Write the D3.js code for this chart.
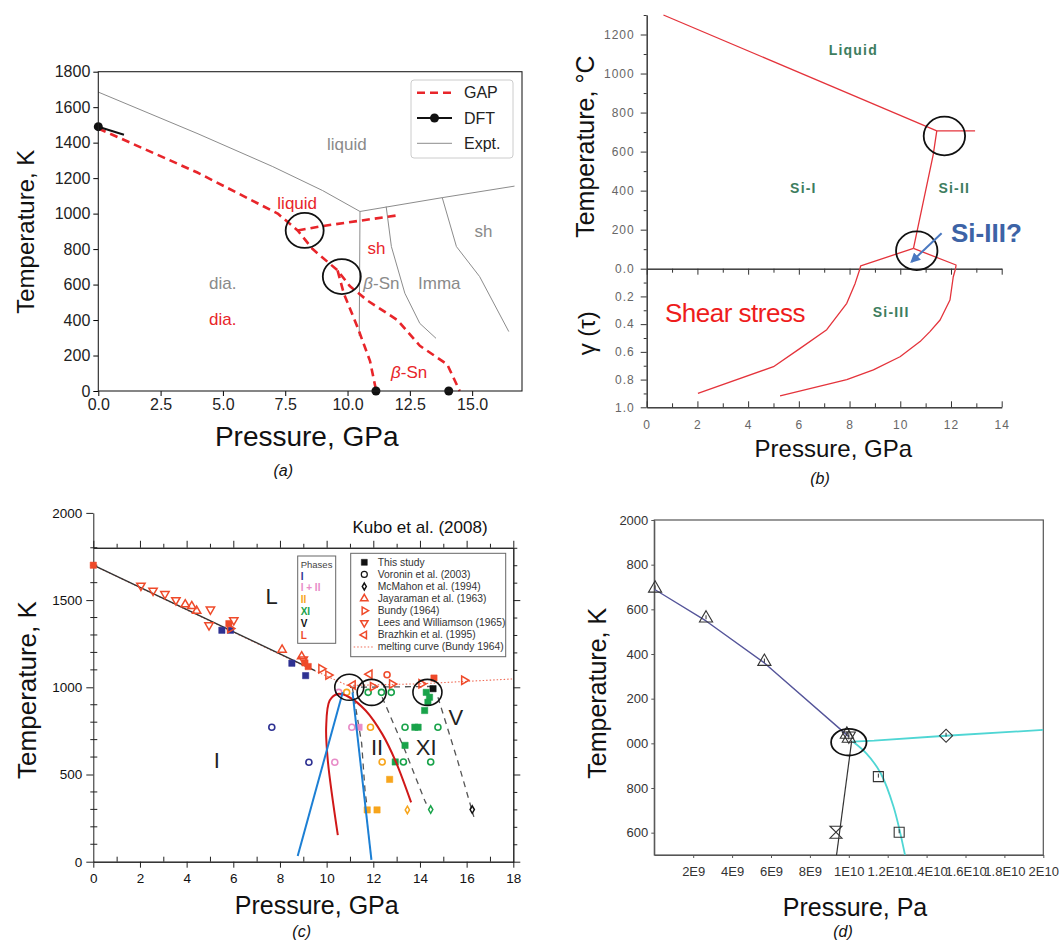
<!DOCTYPE html>
<html>
<head>
<meta charset="utf-8">
<script src="https://cdn.jsdelivr.net/npm/d3@7"></script>
<style>
  body { margin: 0; background: #fff; }
  svg { display: block; }
  text { font-family: "Liberation Sans", Arial, sans-serif; }
</style>
</head>
<body>
<svg id="fig" width="1059" height="941"></svg>
<script>
// ---------- (a) GAP / DFT / experiment ----------
const aXTicks = [0, 2.5, 5, 7.5, 10, 12.5, 15];
const aYTicks = [0, 200, 400, 600, 800, 1000, 1200, 1400, 1600, 1800];
const aExptMelt = [[0, 1685], [4, 1450], [7, 1265], [9, 1130], [10.5, 1012]];
const aExptLiqSh = [[10.5, 1012], [13.8, 1090], [16.7, 1155]];
const aExptDiaBeta = [[10.5, 1012], [10.47, 310]];
const aExptBetaImma = [[11.55, 1040], [11.76, 814], [12.3, 551], [12.9, 381], [13.55, 297]];
const aExptImmaSh = [[13.8, 1090], [14.37, 814], [15.3, 645], [16.47, 335]];
const aGapMain = [[0, 1480], [4, 1230], [7.2, 1000], [8.0, 905], [8.6, 800], [9.6, 680], [10.1, 590],
                  [10.8, 510], [12, 400], [12.9, 255], [14, 150], [14.5, 0]];
const aGapDiaBeta = [[9.6, 680], [9.85, 550], [10.4, 360], [10.9, 170], [11.15, 0]];
const aGapLiqSh = [[8.0, 905], [9, 930], [10.5, 960], [12, 990]];
const aDftLine = [[0, 1490], [1.03, 1445]];
const aDftPts = [[0, 1490], [11.14, 0], [14.06, 0]];
const aRings = [[8.28, 905], [9.77, 645]];
const aLabels = [
  ["liquid", 9.97, 1390, "expt"], ["sh", 15.45, 900, "expt"], ["β-Sn", 11.36, 607, "expt"],
  ["Imma", 13.68, 607, "expt"], ["dia.", 4.99, 607, "expt"],
  ["liquid", 7.98, 1058, "gap"], ["sh", 11.16, 804, "gap"], ["dia.", 4.99, 404, "gap"], ["β-Sn", 12.47, 105, "gap"]
];
const aLegend = ["GAP", "DFT", "Expt."];

// ---------- (b) phase diagram with shear ----------
const bXTicks = [0, 2, 4, 6, 8, 10, 12, 14];
const bXMinor = [1, 3, 5, 7, 9, 11, 13];
const bTTicks = [0, 200, 400, 600, 800, 1000, 1200];
const bTLabels = ["0.0", "200", "400", "600", "800", "1000", "1200"];
const bTMinor = [100, 300, 500, 700, 900, 1100, 1300];
const bGTicks = [0.2, 0.4, 0.6, 0.8, 1.0];
const bGLabels = ["0.2", "0.4", "0.6", "0.8", "1.0"];
const bGMinor = [0.1, 0.3, 0.5, 0.7, 0.9];
const bMelt = [[0.66, 1300], [11.44, 706]];
const bLiqII = [[11.44, 706], [12.95, 706]];
const bIII = [[11.44, 706], [11.30, 585], [10.52, 104]];
const bLeftTop = [[10.52, 104], [8.44, 15], [8.41, 0]];
const bLeftShear = [[8.41, 0], [8.22, 0.106], [7.89, 0.25], [7.10, 0.44], [6.05, 0.575], [5.0, 0.707], [2.02, 0.90]];
const bRightTop = [[10.52, 104], [12.2, 19], [12.18, 0]];
const bRightShear = [[12.18, 0], [12.09, 0.058], [11.96, 0.226], [11.57, 0.37], [11.17, 0.454], [10.78, 0.526],
                     [9.99, 0.635], [8.94, 0.73], [7.89, 0.80], [5.26, 0.918]];
const bRings = [[11.74, 680], [10.65, 92]];
const bPhases = [["Liquid", 8.15, 1121], ["Si-I", 6.18, 415], ["Si-II", 12.13, 415]];
const bShearPhases = [["Si-III", 9.64, 0.315]];
const bArrow = [[11.63, 182], [10.45, 36]];

// ---------- (c) Kubo et al. (2008) ----------
const cXTicks = [0, 2, 4, 6, 8, 10, 12, 14, 16, 18];
const cXMinor = [1, 3, 5, 7, 9, 11, 13, 15, 17];
const cYTicks = [0, 500, 1000, 1500, 2000];
const cYMinor = [100, 200, 300, 400, 600, 700, 800, 900, 1100, 1200, 1300, 1400, 1600, 1700, 1800];
const cPhaseNames = ["I", "I + II", "II", "XI", "V", "L"];
const cPhaseKeys = ["I", "I+II", "II", "XI", "V", "L"];
const cRegionLabels = [["L", 7.64, 1520], ["I", 5.29, 583], ["II", 12.16, 657], ["XI", 14.27, 657], ["V", 15.54, 829]];
const cBlackLine = [[0, 1700], [9.5, 1096]];
const cBundyMelt = [[0, 1700], [5, 1380], [9, 1125], [10.9, 1010], [14, 1020], [18, 1048]];
const cDashed = [
  [[11.1, 1000], [11.5, 680], [11.65, 400], [11.72, 330]],
  [[12.38, 943], [13.36, 638], [14.2, 352], [14.27, 333]],
  [[14.77, 943], [15.61, 581], [16.31, 257]],
  [[11.0, 1000], [14.6, 1005]]
];
const cRed = [[10.48, 152], [10.05, 581], [9.98, 771], [10.13, 924], [10.48, 962], [10.97, 943],
              [11.67, 867], [12.38, 733], [12.94, 581], [13.62, 340]];
const cBlueLeft = [[8.76, 33], [10.69, 971]];
const cBlueRight = [[11.11, 971], [11.92, 10]];
const cRings = [[10.97, 1000], [11.93, 971], [14.32, 971]];
const cStudy = [
  [0, 1700, "L"], [5.51, 1327, "I"], [5.88, 1327, "I"], [8.51, 1138, "I"], [9.1, 1067, "I"],
  [5.81, 1365, "L"], [9.07, 1140, "L"], [9.21, 1119, "L"], [14.6, 1053, "L"],
  [14.56, 992, "V"],
  [14.27, 971, "XI"], [14.41, 943, "XI"], [14.34, 914, "XI"], [14.2, 867, "XI"],
  [13.78, 771, "XI"], [13.92, 771, "XI"], [13.36, 667, "XI"], [12.94, 572, "XI"],
  [12.7, 472, "II"], [11.74, 297, "II"], [12.16, 297, "II"],
  [11.39, 771, "I+II"]
];
const cVoronin = [
  [7.65, 771, "I"], [9.24, 570, "I"],
  [10.35, 570, "I+II"], [11.08, 771, "I+II"], [10.52, 971, "I+II"],
  [10.86, 971, "II"], [11.88, 771, "II"], [12.38, 572, "II"],
  [11.78, 971, "XI"], [12.35, 971, "XI"], [12.77, 971, "XI"], [13.36, 771, "XI"], [14.77, 771, "XI"],
  [13.29, 572, "XI"], [14.46, 572, "XI"],
  [12.59, 1072, "L"]
];
const cMcMahon = [[13.46, 297, "II"], [14.46, 299, "XI"], [16.24, 299, "V"]];
const cJayaraman = [[3.94, 1475], [4.22, 1465], [4.43, 1438], [8.09, 1215], [8.93, 1177]];
const cBundy = [[5.86, 1337], [9.77, 1106], [10.07, 1070], [11.98, 1004], [12.8, 1019], [14.06, 1020], [15.89, 1040]];
const cLees = [[2.04, 1583], [2.56, 1554], [3.07, 1535], [3.54, 1500], [5.02, 1446], [4.96, 1356], [6.02, 1385], [9.0, 1160]];
const cBrazhkin = [[11.12, 1013], [11.84, 1075]];
const cLegend = ["This study", "Voronin et al. (2003)", "McMahon et al. (1994)", "Jayaraman et al. (1963)",
                 "Bundy (1964)", "Lees and Williamson (1965)", "Brazhkin et al. (1995)", "melting curve (Bundy 1964)"];

// ---------- (d) computed diagram ----------
const dXTicks = [2e9, 4e9, 6e9, 8e9, 1e10, 1.2e10, 1.4e10, 1.6e10, 1.8e10, 2e10];
const dXLabels = ["2E9", "4E9", "6E9", "8E9", "1E10", "1.2E10", "1.4E10", "1.6E10", "1.8E10", "2E10"];
const dYTicks = [600, 800, 1000, 1200, 1400, 1600, 1800, 2000];
const dYLabels = ["600", "800", "000", "200", "400", "600", "800", "2000"];
const dMelt = [[0, 1690], [2.66e9, 1548], [5.66e9, 1360], [1.0e10, 1030]];
const dCyanFlat = [[1.02e10, 1008], [1.13e10, 1012], [1.5e10, 1034], [2.0e10, 1060]];
const dCyanDown = [[1.02e10, 1008], [1.09e10, 955], [1.164e10, 866], [1.23e10, 716], [1.289e10, 500]];
const dBlack = [[1.015e10, 1012], [0.937e10, 500]];
const dTriUp = [[0.04e9, 1694], [2.66e9, 1560], [5.66e9, 1366], [0.99e10, 1040], [1.0e10, 1022]];
const dTriDown = [[1.0e10, 1034]];
const dSquares = [[1.152e10, 851], [1.259e10, 602]];
const dDiamonds = [[1.5e10, 1034]];
const dHourglass = [[0.934e10, 602]];
const dRing = [1.0e10, 1005];

// ================= drawing =================
const svg = d3.select("#fig");
const phaseColor = { "I": "#2e3192", "I+II": "#e88cc8", "II": "#f7a51c", "XI": "#19a34a", "V": "#111", "L": "#ef4a2a" };
const trioRed = "#ef4a2a";

function drawLine(g, data, sx, sy, stroke, width, dash) {
  return g.append("path").datum(data)
    .attr("d", d3.line().x(d => sx(d[0])).y(d => sy(d[1])))
    .attr("fill", "none").attr("stroke", stroke).attr("stroke-width", width)
    .attr("stroke-dasharray", dash || null).attr("stroke-linejoin", "round");
}
function axisText(sel, size, fill, family) {
  sel.selectAll("text").attr("font-size", size).attr("fill", fill).attr("font-family", family);
}
function title(g, text, x, y, size, rotate, family) {
  return g.append("text").text(text)
    .attr("transform", `translate(${x},${y})` + (rotate ? " rotate(-90)" : ""))
    .attr("text-anchor", "middle").attr("dominant-baseline", "central")
    .attr("font-size", size).attr("font-family", family || "Lato").attr("fill", "#111");
}
function caption(text, x, y) {
  svg.append("text").text(text).attr("x", x).attr("y", y).attr("text-anchor", "middle")
    .attr("font-family", "Liberation Serif").attr("font-style", "italic").attr("font-size", 16).attr("fill", "#111");
}
const symType = { sq: d3.symbolSquare, ci: d3.symbolCircle, di: d3.symbolDiamond, tri: d3.symbolTriangle };
function marker(g, kind, x, y, size, color, filled, rot) {
  return g.append("path").attr("d", d3.symbol().type(symType[kind]).size(size)())
    .attr("transform", `translate(${x},${y}) rotate(${rot || 0})`)
    .attr("fill", filled ? color : "none").attr("stroke", color).attr("stroke-width", filled ? 0.5 : 1.5);
}
const plain = d3.format("d");

// ----- (a) -----
const gA = svg.append("g");
const xA = d3.scaleLinear([0, 17], [98.3, 522]);
const yA = d3.scaleLinear([0, 1800], [391, 71.7]);

gA.append("g").attr("transform", `translate(0,${yA(0)})`)
  .call(d3.axisBottom(xA).tickValues(aXTicks).tickFormat(d3.format(".1f")).tickSize(5).tickSizeOuter(0))
  .call(g => g.select(".domain").remove())
  .call(g => axisText(g, 16, "#222", "DejaVu Sans"));
gA.append("g").attr("transform", `translate(${xA(0)},0)`)
  .call(d3.axisLeft(yA).tickValues(aYTicks).tickFormat(plain).tickSize(5).tickSizeOuter(0))
  .call(g => g.select(".domain").remove())
  .call(g => axisText(g, 16, "#222", "DejaVu Sans"));

[aExptMelt, aExptLiqSh, aExptDiaBeta, aExptBetaImma, aExptImmaSh]
  .forEach(d => drawLine(gA, d, xA, yA, "#8c8c8c", 1));
[aGapMain, aGapDiaBeta, aGapLiqSh]
  .forEach(d => drawLine(gA, d, xA, yA, "#e8252a", 2.6, "8,5"));
drawLine(gA, aDftLine, xA, yA, "#111", 2);
gA.selectAll(".dft").data(aDftPts).join("circle")
  .attr("cx", d => xA(d[0])).attr("cy", d => yA(d[1])).attr("r", 4.5).attr("fill", "#111");
gA.selectAll(".ring").data(aRings).join("ellipse")
  .attr("cx", d => xA(d[0])).attr("cy", d => yA(d[1])).attr("rx", 19).attr("ry", 17.5)
  .attr("fill", "none").attr("stroke", "#111").attr("stroke-width", 1.8);

aLabels.forEach(([t, x, y, kind]) => {
  const tx = gA.append("text").attr("x", xA(x)).attr("y", yA(y))
    .attr("text-anchor", "middle").attr("dominant-baseline", "central")
    .attr("font-family", "DejaVu Sans").attr("font-size", 17)
    .attr("fill", kind === "gap" ? "#e8252a" : "#8a8a8a");
  if (t.startsWith("β")) {
    tx.append("tspan").attr("font-style", "italic").text("β");
    tx.append("tspan").text(t.slice(1));
  } else tx.text(t);
});

gA.append("rect").attr("x", xA(0)).attr("y", yA(1800))
  .attr("width", xA(17) - xA(0)).attr("height", yA(0) - yA(1800))
  .attr("fill", "none").attr("stroke", "#222").attr("stroke-width", 1.1);

const legA = gA.append("g").attr("transform", "translate(411,80)");
legA.append("rect").attr("width", 102).attr("height", 78).attr("rx", 3)
  .attr("fill", "#fff").attr("fill-opacity", 0.85).attr("stroke", "#ccc");
aLegend.forEach((t, i) => {
  const y = 12.7 + i * 25.3;
  const l = legA.append("line").attr("x1", 6).attr("x2", 41).attr("y1", y).attr("y2", y);
  if (i === 0) l.attr("stroke", "#e8252a").attr("stroke-width", 2.6).attr("stroke-dasharray", "8,5");
  if (i === 1) { l.attr("stroke", "#111").attr("stroke-width", 2);
    legA.append("circle").attr("cx", 23.5).attr("cy", y).attr("r", 4.5).attr("fill", "#111"); }
  if (i === 2) l.attr("stroke", "#8c8c8c").attr("stroke-width", 1);
  legA.append("text").attr("x", 53).attr("y", y).attr("dominant-baseline", "central")
    .attr("font-family", "DejaVu Sans").attr("font-size", 16).attr("fill", "#222").text(t);
});

title(gA, "Temperature, K", 25, 231.7, 24, true);
title(gA, "Pressure, GPa", 306.7, 436.7, 28);
caption("(a)", 283.3, 476);

// ----- (b) -----
const gB = svg.append("g");
const xB = d3.scaleLinear([0, 14], [646.7, 1001.7]);
const tB = d3.scaleLinear([0, 1300], [268.7, 15]);
const sB = d3.scaleLinear([0, 1], [268.7, 407.3]);
const bTickCol = "#666";

gB.append("g").attr("transform", `translate(${xB(0)},0)`)
  .call(d3.axisLeft(tB).tickValues(bTTicks).tickFormat((d, i) => bTLabels[i]).tickSize(6).tickPadding(6).tickSizeOuter(0))
  .call(g => axisText(g, 12, bTickCol, "Liberation Sans"));
gB.append("g").attr("transform", `translate(${xB(0)},0)`)
  .call(d3.axisLeft(tB).tickValues(bTMinor).tickFormat("").tickSize(3).tickSizeOuter(0));
gB.append("g").attr("transform", `translate(${xB(0)},0)`)
  .call(d3.axisLeft(sB).tickValues(bGTicks).tickFormat((d, i) => bGLabels[i]).tickSize(6).tickPadding(6).tickSizeOuter(0))
  .call(g => axisText(g, 12, bTickCol, "Liberation Sans"));
gB.append("g").attr("transform", `translate(${xB(0)},0)`)
  .call(d3.axisLeft(sB).tickValues(bGMinor).tickFormat("").tickSize(3).tickSizeOuter(0));
// zero line with hanging ticks
gB.append("g").attr("transform", `translate(0,${tB(0)})`)
  .call(d3.axisBottom(xB).tickValues(bXTicks).tickFormat("").tickSize(6).tickSizeOuter(0));
gB.append("g").attr("transform", `translate(0,${tB(0)})`)
  .call(d3.axisBottom(xB).tickValues(bXMinor).tickFormat("").tickSize(4).tickSizeOuter(0));
// bottom axis, ticks inward
gB.append("g").attr("transform", `translate(0,${sB(1)})`)
  .call(d3.axisBottom(xB).tickValues(bXTicks).tickSize(-6).tickPadding(13).tickSizeOuter(0))
  .call(g => axisText(g, 12, bTickCol, "Liberation Sans"));
gB.append("g").attr("transform", `translate(0,${sB(1)})`)
  .call(d3.axisBottom(xB).tickValues(bXMinor).tickFormat("").tickSize(-4).tickSizeOuter(0));
gB.selectAll(".domain, .tick line").attr("stroke", "#333");
gB.selectAll("text").attr("letter-spacing", 1);

const bRed = "#e4333b";
[bMelt, bLiqII, bIII, bLeftTop, bRightTop].forEach(d => drawLine(gB, d, xB, tB, bRed, 1.3));
[bLeftShear, bRightShear].forEach(d => drawLine(gB, d, xB, sB, bRed, 1.3));

gB.selectAll(".ring").data(bRings).join("ellipse")
  .attr("cx", d => xB(d[0])).attr("cy", d => tB(d[1])).attr("rx", 20.7).attr("ry", 19.3)
  .attr("fill", "none").attr("stroke", "#111").attr("stroke-width", 1.8);

const bGreen = "#3d7d5e";
bPhases.forEach(([t, x, y]) => gB.append("text").text(t).attr("x", xB(x)).attr("y", tB(y))
  .attr("text-anchor", "middle").attr("dominant-baseline", "central").attr("font-weight", "bold")
  .attr("font-size", 14).attr("letter-spacing", 1.2).attr("fill", bGreen));
bShearPhases.forEach(([t, x, y]) => gB.append("text").text(t).attr("x", xB(x)).attr("y", sB(y))
  .attr("text-anchor", "middle").attr("dominant-baseline", "central").attr("font-weight", "bold")
  .attr("font-size", 14).attr("letter-spacing", 1.2).attr("fill", bGreen));

svg.append("defs").append("marker").attr("id", "arr").attr("viewBox", "0 0 10 10")
  .attr("refX", 8).attr("refY", 5).attr("markerWidth", 5).attr("markerHeight", 5).attr("orient", "auto")
  .append("path").attr("d", "M0,0 L10,5 L0,10 z").attr("fill", "#4a78c0");
gB.append("line").attr("x1", xB(bArrow[0][0])).attr("y1", tB(bArrow[0][1]))
  .attr("x2", xB(bArrow[1][0])).attr("y2", tB(bArrow[1][1]))
  .attr("stroke", "#4a78c0").attr("stroke-width", 2).attr("marker-end", "url(#arr)");
gB.append("text").text("Si-III?").attr("x", xB(12.0)).attr("y", tB(182))
  .attr("dominant-baseline", "central").attr("font-weight", "bold").attr("font-size", 26).attr("fill", "#3d63a6");
gB.append("text").text("Shear stress").attr("x", xB(3.48)).attr("y", sB(0.32))
  .attr("text-anchor", "middle").attr("dominant-baseline", "central")
  .attr("font-size", 26).attr("fill", "#ee1c1c").attr("letter-spacing", -0.5);

title(gB, "Temperature, °C", 585, 146.7, 25, true);
title(gB, "γ (τ)", 586.7, 333.3, 24, true, "DejaVu Serif");
title(gB, "Pressure, GPa", 833.3, 448.3, 24);
caption("(b)", 820, 484);

// ----- (c) -----
const gC = svg.append("g");
const xC = d3.scaleLinear([0, 18], [93.3, 513.3]);
const yC = d3.scaleLinear([0, 2000], [861.7, 512.9]);

gC.append("g").attr("transform", `translate(${xC(0)},0)`)
  .call(d3.axisLeft(yC).tickValues(cYTicks).tickFormat(plain).tickSize(7).tickPadding(4).tickSizeOuter(0))
  .call(g => axisText(g, 13.5, "#111", "Liberation Sans"));
gC.selectAll(".cminor").data(cYMinor).join("line")
  .attr("x1", xC(0) - 3).attr("x2", xC(0) + 4).attr("y1", d => yC(d)).attr("y2", d => yC(d)).attr("stroke", "#222");
gC.append("g").attr("transform", `translate(0,${yC(0)})`)
  .call(d3.axisBottom(xC).tickValues(cXTicks).tickSize(6).tickPadding(6).tickSizeOuter(0))
  .call(g => axisText(g, 13.5, "#111", "Liberation Sans"));
gC.append("g").attr("transform", `translate(0,${yC(0)})`)
  .call(d3.axisBottom(xC).tickValues(cXMinor).tickFormat("").tickSize(-5).tickSizeOuter(0));
// top frame at 1800 K with ticks upward
gC.append("g").attr("transform", `translate(0,${yC(1800)})`)
  .call(d3.axisTop(xC).tickValues(cXTicks).tickFormat("").tickSize(7).tickSizeOuter(0));
gC.append("g").attr("transform", `translate(0,${yC(1800)})`)
  .call(d3.axisTop(xC).tickValues(cXMinor).tickFormat("").tickSize(4).tickSizeOuter(0));
// right frame
const yCRight = d3.scaleLinear([0, 1800], [yC(0), yC(1800)]);
gC.append("g").attr("transform", `translate(${xC(18)},0)`)
  .call(d3.axisRight(yCRight).tickValues(cYTicks.filter(v => v <= 1800)).tickFormat("").tickSize(7).tickSizeOuter(0));
gC.append("g").attr("transform", `translate(${xC(18)},0)`)
  .call(d3.axisRight(yCRight).tickValues(cYMinor).tickFormat("").tickSize(4).tickSizeOuter(0));
gC.selectAll(".domain, .tick line").attr("stroke", "#222");

drawLine(gC, cBundyMelt, xC, yC, "#ef6a55", 1.1, "1.5,2");
drawLine(gC, cBlackLine, xC, yC, "#333", 1.4);
cDashed.forEach(d => drawLine(gC, d, xC, yC, "#555", 1.3, "6,5"));

cStudy.forEach(([x, y, p]) => marker(gC, "sq", xC(x), yC(y), 40, phaseColor[p], true));
cVoronin.forEach(([x, y, p]) => gC.append("circle").attr("cx", xC(x)).attr("cy", yC(y)).attr("r", 3)
  .attr("fill", "none").attr("stroke", phaseColor[p]).attr("stroke-width", 1.6));
cMcMahon.forEach(([x, y, p]) => marker(gC, "di", xC(x), yC(y), 16, phaseColor[p], false));
cJayaraman.forEach(([x, y]) => marker(gC, "tri", xC(x), yC(y), 30, trioRed, false, 0));
cBundy.forEach(([x, y]) => marker(gC, "tri", xC(x), yC(y), 30, trioRed, false, 90));
cLees.forEach(([x, y]) => marker(gC, "tri", xC(x), yC(y), 30, trioRed, false, 180));
cBrazhkin.forEach(([x, y]) => marker(gC, "tri", xC(x), yC(y), 30, trioRed, false, 270));

gC.append("path").attr("d", d3.line().curve(d3.curveCatmullRom).x(d => xC(d[0])).y(d => yC(d[1]))(cRed))
  .attr("fill", "none").attr("stroke", "#d01818").attr("stroke-width", 2);
drawLine(gC, cBlueLeft, xC, yC, "#1c7fd4", 2);
drawLine(gC, cBlueRight, xC, yC, "#1c7fd4", 2);

gC.selectAll(".ring").data(cRings).join("ellipse")
  .attr("cx", d => xC(d[0])).attr("cy", d => yC(d[1])).attr("rx", 14.5).attr("ry", 13)
  .attr("fill", "none").attr("stroke", "#111").attr("stroke-width", 1.6);

cRegionLabels.forEach(([t, x, y]) =>
  gC.append("text").text(t).attr("x", xC(x)).attr("y", yC(y)).attr("text-anchor", "middle")
    .attr("dominant-baseline", "central").attr("font-size", 22).attr("fill", "#222"));

// phases legend
const legP = gC.append("g").attr("transform", "translate(297.7,556)");
legP.append("rect").attr("width", 38).attr("height", 87.3).attr("fill", "#fff").attr("stroke", "#666");
legP.append("text").text("Phases").attr("x", 3).attr("y", 8).attr("dominant-baseline", "central")
  .attr("font-size", 9.5).attr("fill", "#444");
cPhaseNames.forEach((t, i) => legP.append("text").text(t).attr("x", 3).attr("y", 20 + i * 11.8)
  .attr("dominant-baseline", "central").attr("font-size", 10).attr("font-weight", "bold")
  .attr("fill", phaseColor[cPhaseKeys[i]]));

// source legend
const legC = gC.append("g").attr("transform", "translate(350.7,553.3)");
legC.append("rect").attr("width", 155).attr("height", 103.4).attr("fill", "#fff").attr("stroke", "#666");
cLegend.forEach((t, i) => {
  const y = 9 + i * 12.1, x = 13.6;
  if (i === 0) marker(legC, "sq", x, y, 36, "#111", true);
  if (i === 1) legC.append("circle").attr("cx", x).attr("cy", y).attr("r", 3).attr("fill", "none").attr("stroke", "#111").attr("stroke-width", 1.2);
  if (i === 2) marker(legC, "di", x, y, 14, "#111", false);
  if (i >= 3 && i <= 6) marker(legC, "tri", x, y, 24, trioRed, false, [0, 90, 180, 270][i - 3]);
  if (i === 7) legC.append("line").attr("x1", 3).attr("x2", 24).attr("y1", y).attr("y2", y)
    .attr("stroke", "#ef6a55").attr("stroke-dasharray", "1.5,2");
  legC.append("text").text(t).attr("x", 27).attr("y", y).attr("dominant-baseline", "central")
    .attr("font-size", 10.3).attr("fill", "#333");
});

gC.append("text").text("Kubo et al. (2008)").attr("x", 420).attr("y", 527.3).attr("text-anchor", "middle")
  .attr("dominant-baseline", "central").attr("font-size", 17).attr("fill", "#111");
title(gC, "Temperature, K", 26.7, 690, 26, true);
title(gC, "Pressure, GPa", 316.7, 905, 25);
caption("(c)", 301.7, 937);

// ----- (d) -----
const gD = svg.append("g");
const xD = d3.scaleLinear([0, 2e10], [654.3, 1043.3]);
const yD = d3.scaleLinear([500, 2000], [855, 520]);

gD.append("g").attr("transform", `translate(0,${yD(500)})`)
  .call(d3.axisBottom(xD).tickValues(dXTicks).tickFormat((d, i) => dXLabels[i]).tickSize(3).tickPadding(9).tickSizeOuter(0))
  .call(g => axisText(g, 13, "#333", "Liberation Sans"));
gD.append("g").attr("transform", `translate(${xD(0)},0)`)
  .call(d3.axisLeft(yD).tickValues(dYTicks).tickFormat((d, i) => dYLabels[i]).tickSize(3).tickPadding(3).tickSizeOuter(0))
  .call(g => axisText(g, 13, "#333", "Liberation Sans"));
gD.selectAll(".domain, .tick line").attr("stroke", "#555");
gD.append("rect").attr("x", xD(0)).attr("y", yD(2000)).attr("width", xD(2e10) - xD(0)).attr("height", yD(500) - yD(2000))
  .attr("fill", "none").attr("stroke", "#555").attr("stroke-width", 1.2);

gD.append("clipPath").attr("id", "clipD").append("rect")
  .attr("x", xD(0)).attr("y", yD(2000)).attr("width", xD(2e10) - xD(0)).attr("height", yD(500) - yD(2000));
const gDin = gD.append("g").attr("clip-path", "url(#clipD)");
drawLine(gDin, dMelt, xD, yD, "#55559a", 1.4);
drawLine(gDin, dCyanFlat, xD, yD, "#4fd6d4", 1.8);
gDin.append("path").attr("d", d3.line().curve(d3.curveCatmullRom).x(d => xD(d[0])).y(d => yD(d[1]))(dCyanDown))
  .attr("fill", "none").attr("stroke", "#4fd6d4").attr("stroke-width", 1.8);
drawLine(gDin, dBlack, xD, yD, "#333", 1.2);

function openMark(kind, x, y, size, rot) {
  marker(gD, kind, x, y, size, "#333", false, rot).attr("stroke-width", 1.1);
  gD.append("line").attr("x1", x).attr("x2", x).attr("y1", y - 3).attr("y2", y + 1).attr("stroke", "#333");
}
dTriUp.forEach(([x, y]) => openMark("tri", xD(x), yD(y), 75, 0));
dTriDown.forEach(([x, y]) => openMark("tri", xD(x), yD(y), 75, 180));
dSquares.forEach(([x, y]) => openMark("sq", xD(x), yD(y), 100, 0));
dDiamonds.forEach(([x, y]) => openMark("sq", xD(x), yD(y), 85, 45));
dHourglass.forEach(([x, y]) => gD.append("path")
  .attr("d", `M${xD(x) - 6},${yD(y) - 6}L${xD(x) + 6},${yD(y) - 6}L${xD(x) - 6},${yD(y) + 6}L${xD(x) + 6},${yD(y) + 6}Z`)
  .attr("fill", "none").attr("stroke", "#333").attr("stroke-width", 1.1));
gD.append("ellipse").attr("cx", xD(dRing[0])).attr("cy", yD(dRing[1])).attr("rx", 17.7).attr("ry", 13.3)
  .attr("fill", "none").attr("stroke", "#111").attr("stroke-width", 1.8);

title(gD, "Temperature, K", 596.7, 693.3, 25, true);
title(gD, "Pressure, Pa", 855, 906.7, 25);
caption("(d)", 843, 937);
</script>
</body>
</html>
